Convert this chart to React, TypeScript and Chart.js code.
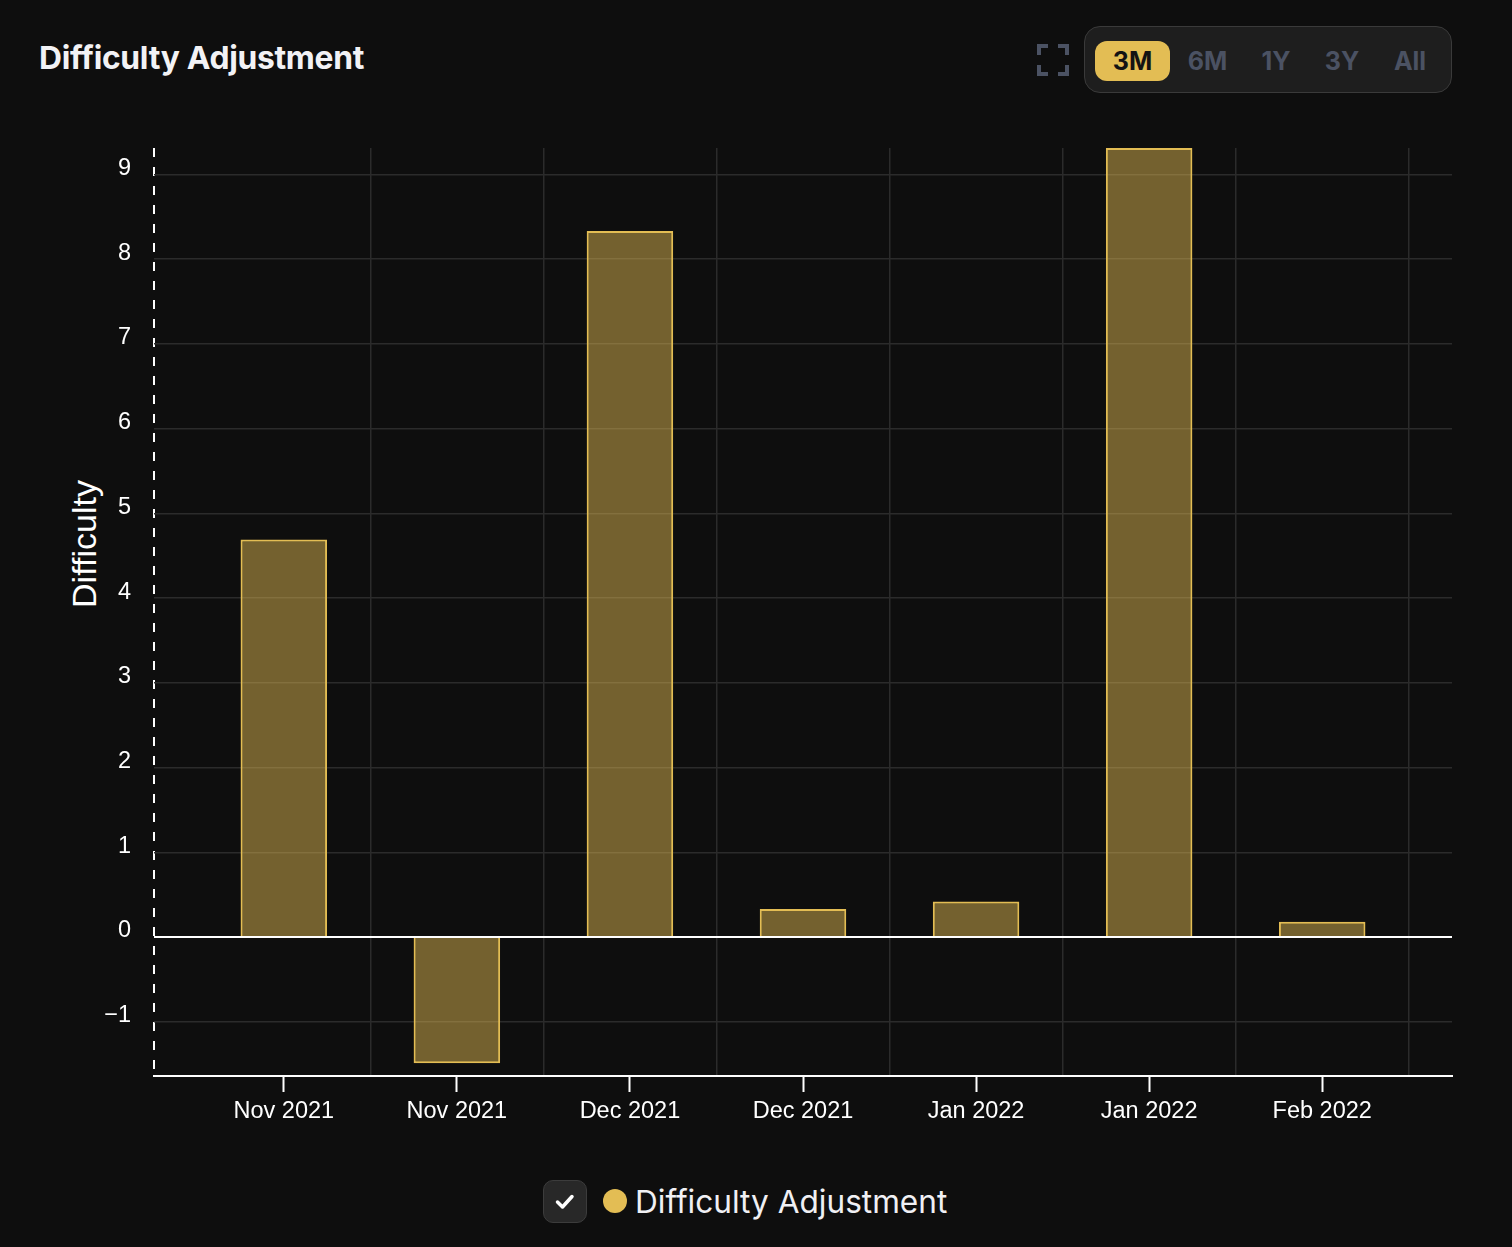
import React, { useEffect, useRef } from 'react';
import { Chart, registerables } from 'chart.js';

Chart.register(...registerables);

const categories = ['Nov 2021', 'Nov 2021', 'Dec 2021', 'Dec 2021', 'Jan 2022', 'Jan 2022', 'Feb 2022'];
const adjustments = [4.69, -1.49, 8.33, 0.33, 0.42, 9.31, 0.18];
const yTickValues = [-1, 0, 1, 2, 3, 4, 5, 6, 7, 8, 9];
const yMin = -1.64;
const yMax = 9.31;
const xMin = -0.75;
const xMax = 6.75;
const ranges = ['3M', '6M', '1Y', '3Y', 'All'];
const seriesName = 'Difficulty Adjustment';
const yTitle = 'Difficulty';
const chartTitle = 'Difficulty Adjustment';

const GOLD = '#e3bd54';
const BG = '#0e0e0e';
const GRID = '#2b2b2b';
const TICK_FONT = "'Liberation Sans', Arial, sans-serif";
const UI_FONT = "Inter, 'Noto Sans', sans-serif";

export default function App() {
  const canvasRef = useRef<HTMLCanvasElement | null>(null);

  useEffect(() => {
    document.body.style.margin = '0';
    document.body.style.background = BG;
    const canvas = canvasRef.current;
    if (!canvas) return;
    const chart = new Chart(canvas, {
      type: 'bar',
      data: {
        datasets: [
          {
            label: seriesName,
            data: adjustments.map((v, i) => ({ x: i, y: v })),
            backgroundColor: 'rgba(227,189,84,0.48)',
            borderColor: GOLD,
            borderWidth: 2,
            categoryPercentage: 1,
            barPercentage: 0.5,
            xAxisID: 'x',
            yAxisID: 'y',
          } as any,
        ],
      },
      options: {
        animation: false,
        responsive: true,
        maintainAspectRatio: false,
        layout: { padding: { top: 148, right: 60, bottom: 14, left: 0 } },
        plugins: {
          legend: { display: false },
          tooltip: { enabled: false },
        },
        scales: {
          x: {
            type: 'linear',
            position: 'bottom',
            offset: false,
            min: xMin,
            max: xMax,
            afterBuildTicks: (scale: any) => {
              scale.ticks = categories.map((_, i) => ({ value: i }));
            },
            afterFit: (scale: any) => {
              scale.height = 50;
            },
            ticks: {
              autoSkip: false,
              maxRotation: 0,
              padding: 5,
              color: '#ffffff',
              font: { family: TICK_FONT, size: 23.5 },
              callback: (v: any) => categories[Math.round(Number(v))] ?? '',
            },
            grid: {
              display: true,
              offset: false,
              drawOnChartArea: false,
              drawTicks: true,
              tickLength: 16,
              tickColor: '#ffffff',
              tickWidth: 2,
            },
            border: { display: true, color: '#ffffff', width: 2 },
          },
          xGrid: {
            type: 'linear',
            position: 'top',
            offset: false,
            min: xMin,
            max: xMax,
            afterBuildTicks: (scale: any) => {
              scale.ticks = categories.map((_, i) => ({ value: i + 0.5 }));
            },
            afterFit: (scale: any) => {
              scale.height = 0;
            },
            ticks: { display: false },
            grid: { display: true, offset: false, drawOnChartArea: true, drawTicks: false, color: GRID, lineWidth: 1.5 },
            border: { display: false },
          },
          xEdge: {
            type: 'linear',
            position: 'top',
            offset: false,
            min: xMin,
            max: xMax,
            afterBuildTicks: (scale: any) => {
              scale.ticks = [{ value: xMin }];
            },
            afterFit: (scale: any) => {
              scale.height = 0;
            },
            ticks: { display: false },
            grid: { display: true, offset: false, drawOnChartArea: true, drawTicks: false, color: '#ffffff', lineWidth: 2 },
            border: { display: false, dash: [9, 10] },
          },
          y: {
            type: 'linear',
            min: yMin,
            max: yMax,
            afterBuildTicks: (scale: any) => {
              scale.ticks = yTickValues.map((v) => ({ value: v }));
            },
            afterFit: (scale: any) => {
              scale.width = 154;
            },
            ticks: {
              padding: 23,
              labelOffset: -6,
              color: '#ffffff',
              font: { family: TICK_FONT, size: 23.5 },
              callback: (v: any) => String(v).replace('-', '\u2212'),
            },
            grid: {
              drawTicks: false,
              color: (ctx: any) => (ctx.tick && ctx.tick.value === 0 ? '#ffffff' : GRID),
              lineWidth: (ctx: any) => (ctx.tick && ctx.tick.value === 0 ? 2 : 1.5),
            },
            border: { display: false },
          },
        },
      } as any,
    });
    return () => chart.destroy();
  }, []);

  return (
    <div style={{ position: 'relative', width: 1512, height: 1247, background: BG, overflow: 'hidden' }}>
      <div
        style={{
          position: 'absolute',
          left: 39,
          top: 38,
          color: '#f2f2f5',
          fontFamily: UI_FONT,
          fontWeight: 700,
          fontSize: 31.8,
          lineHeight: '40px',
          letterSpacing: -0.3,
          whiteSpace: 'nowrap',
        }}
      >
        {chartTitle}
      </div>

      <svg
        width={32}
        height={32}
        viewBox="0 0 32 32"
        style={{ position: 'absolute', left: 1037, top: 44 }}
      >
        <g fill="none" stroke="#4b5263" strokeWidth={4} strokeLinecap="butt">
          <path d="M2 11 V2 H11" />
          <path d="M21 2 H30 V11" />
          <path d="M30 21 V30 H21" />
          <path d="M11 30 H2 V21" />
        </g>
      </svg>

      <div
        style={{
          position: 'absolute',
          left: 1084,
          top: 26,
          width: 368,
          height: 67,
          boxSizing: 'border-box',
          background: '#1e1e1e',
          border: '1.5px solid #3a3a3a',
          borderRadius: 16,
        }}
      >
        {ranges.map((r, i) => {
          const centers = [1131.5, 1206.5, 1275, 1341, 1409];
          const active = i === 0;
          const w = active ? 75 : 64;
          return (
            <div
              key={r}
              style={{
                position: 'absolute',
                left: centers[i] - 1084 - w / 2,
                top: 13.5,
                width: w,
                height: 40,
                borderRadius: 12,
                background: active ? GOLD : 'transparent',
                color: active ? '#131313' : '#4b5263',
                fontFamily: UI_FONT,
                fontWeight: 700,
                fontSize: 25,
                lineHeight: '40px',
                textAlign: 'center',
              }}
            >
              {r}
            </div>
          );
        })}
      </div>

      <div
        style={{
          position: 'absolute',
          left: 84,
          top: 544,
          transform: 'translate(-50%, -50%) rotate(-90deg)',
          color: '#ffffff',
          fontFamily: TICK_FONT,
          fontSize: 34,
          whiteSpace: 'nowrap',
          lineHeight: '38px',
        }}
      >
        {yTitle}
      </div>

      <div style={{ position: 'absolute', left: 0, top: 0, width: 1512, height: 1140 }}>
        <canvas ref={canvasRef} />
      </div>

      <div
        style={{
          position: 'absolute',
          left: 543,
          top: 1180,
          width: 44,
          height: 43,
          boxSizing: 'border-box',
          background: '#282828',
          border: '1.5px solid #3c3c3c',
          borderRadius: 10,
        }}
      >
        <svg width={44} height={43} viewBox="0 0 44 43" style={{ position: 'absolute', left: -1.5, top: -1.5 }}>
          <path d="M14.5 22 L19.5 27 L29 16.5" fill="none" stroke="#ffffff" strokeWidth={3.5} strokeLinecap="round" strokeLinejoin="round" />
        </svg>
      </div>
      <div
        style={{
          position: 'absolute',
          left: 603,
          top: 1189,
          width: 24,
          height: 24,
          borderRadius: '50%',
          background: GOLD,
        }}
      />
      <div
        style={{
          position: 'absolute',
          left: 635,
          top: 1182,
          color: '#f0f0f4',
          fontFamily: UI_FONT,
          fontSize: 31.6,
          lineHeight: '40px',
          whiteSpace: 'nowrap',
        }}
      >
        {seriesName}
      </div>
    </div>
  );
}
